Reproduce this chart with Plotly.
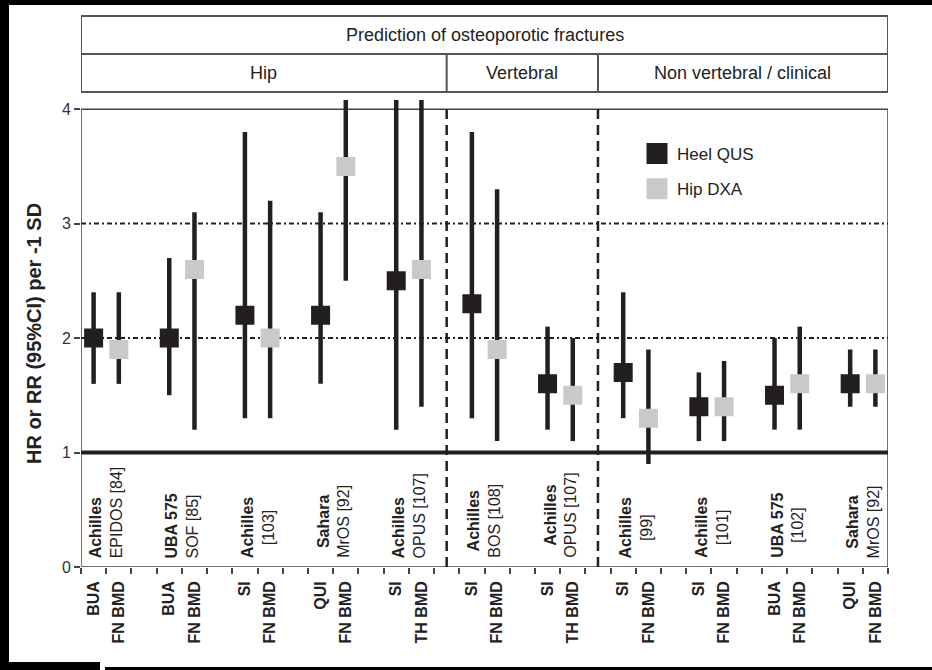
import plotly.graph_objects as go

# ---------------- data ----------------
group_names = ["Hip", "Vertebral", "Non vertebral / clinical"]
group_pairs = [5, 2, 4]
header_title = "Prediction of osteoporotic fractures"

devices = ["Achilles", "UBA 575", "Achilles", "Sahara", "Achilles",
           "Achilles", "Achilles",
           "Achilles", "Achilles", "UBA 575", "Sahara"]
studies = ["EPIDOS [84]", "SOF [85]", "[103]", "MrOS [92]", "OPUS [107]",
           "BOS [108]", "OPUS [107]",
           "[99]", "[101]", "[102]", "MrOS [92]"]
heel_params = ["BUA", "BUA", "SI", "QUI", "SI", "SI", "SI", "SI", "SI", "BUA", "QUI"]
hip_params = ["FN BMD", "FN BMD", "FN BMD", "FN BMD", "TH BMD",
              "FN BMD", "TH BMD", "FN BMD", "FN BMD", "FN BMD", "FN BMD"]

heel_hr = [2.0, 2.0, 2.2, 2.2, 2.5, 2.3, 1.6, 1.7, 1.4, 1.5, 1.6]
heel_lo = [1.6, 1.5, 1.3, 1.6, 1.2, 1.3, 1.2, 1.3, 1.1, 1.2, 1.4]
heel_hi = [2.4, 2.7, 3.8, 3.1, 4.1, 3.8, 2.1, 2.4, 1.7, 2.0, 1.9]

hip_hr = [1.9, 2.6, 2.0, 3.5, 2.6, 1.9, 1.5, 1.3, 1.4, 1.6, 1.6]
hip_lo = [1.6, 1.2, 1.3, 2.5, 1.4, 1.1, 1.1, 0.9, 1.1, 1.2, 1.4]
hip_hi = [2.4, 3.1, 3.2, 4.1, 4.1, 3.3, 2.0, 1.9, 1.8, 2.1, 1.9]

series_names = ["Heel QUS", "Hip DXA"]
y_ticks = [0, 1, 2, 3, 4]
ref_value = 1
grid_values = [2, 3]
y_title = "HR or RR (95%CI) per -1 SD"

# ---------------- styles ----------------
BLACK = "#231f20"
GRAY = "#c8c9cb"
FRAME = "#444444"
FONT = "Liberation Sans, Arial, sans-serif"
pair_align = ["left", "left", "center", "center", "left",
              "center", "center", "center", "center", "center", "center"]

W, H = 932, 670
ML, MR, MT, MB = 81, 44, 100, 103
PW, PH = W - ML - MR, H - MT - MB


def px_x(px):
    return (px - ML) / PW


def px_y(py):
    return (H - MB - py) / PH


n_pairs = len(devices)
heel_x = [3 * i for i in range(n_pairs)]
hip_x = [3 * i + 1 for i in range(n_pairs)]
n_slots = 3 * n_pairs - 1
x_lo, x_hi = -0.5, n_slots - 0.5
y_top_frame = y_ticks[-1]

fig = go.Figure()


def add_series(xs, hr, lo, hi, color, name):
    fig.add_trace(go.Scatter(
        x=xs, y=hr, mode="markers", name=name, showlegend=False,
        marker=dict(symbol="square", size=14, color=color,
                    line=dict(color=color, width=5)),
        error_y=dict(type="data", symmetric=False,
                     array=[h - m for h, m in zip(hi, hr)],
                     arrayminus=[m - l for m, l in zip(hr, lo)],
                     color=BLACK, thickness=4.5, width=0),
        cliponaxis=True,
    ))


add_series(heel_x, heel_hr, heel_lo, heel_hi, BLACK, series_names[0])
add_series(hip_x, hip_hr, hip_lo, hip_hi, GRAY, series_names[1])

# legend-only entries
for name, color in zip(series_names, [BLACK, GRAY]):
    fig.add_trace(go.Scatter(
        x=[None], y=[None], mode="markers", name=name, legendgroup=name,
        marker=dict(symbol="square", size=20, color=color,
                    line=dict(color=color, width=5)),
    ))

shapes = []
# frame
shapes.append(dict(type="rect", xref="x", yref="y", x0=x_lo, x1=x_hi,
                   y0=0, y1=y_top_frame, line=dict(color=FRAME, width=1.5),
                   layer="below"))
# dotted grid lines
for g in grid_values:
    shapes.append(dict(type="line", xref="x", yref="y", x0=x_lo, x1=x_hi,
                       y0=g, y1=g, line=dict(color=BLACK, width=2,
                                             dash="5px,3px,2px,3px"),
                       layer="below"))
# reference line
shapes.append(dict(type="line", xref="x", yref="y", x0=x_lo, x1=x_hi,
                   y0=ref_value, y1=ref_value,
                   line=dict(color=BLACK, width=4), layer="below"))
# group dividers
cum = 0
dividers = []
for c in group_pairs[:-1]:
    cum += c
    dividers.append(3 * cum - 1)
for d in dividers:
    shapes.append(dict(type="line", xref="x", yref="y", x0=d, x1=d,
                       y0=0, y1=y_top_frame,
                       line=dict(color=BLACK, width=2.5, dash="10px,6px"),
                       layer="below"))

# header table
hy0, hy1, hy2 = px_y(92), px_y(54), px_y(16)
HC = "#555555"
shapes.append(dict(type="rect", xref="x", yref="paper", x0=x_lo, x1=x_hi,
                   y0=hy0, y1=hy2, line=dict(color=HC, width=2)))
shapes.append(dict(type="line", xref="x", yref="paper", x0=x_lo, x1=x_hi,
                   y0=hy1, y1=hy1, line=dict(color=HC, width=2)))
for d in dividers:
    shapes.append(dict(type="line", xref="x", yref="paper", x0=d, x1=d,
                       y0=hy0, y1=hy1, line=dict(color=HC, width=2)))

# black scan borders
for (a, b, c, d) in [(0, 932, 0, 5), (0, 9, 0, 662), (0, 100, 662, 670),
                     (105, 932, 667, 670)]:
    shapes.append(dict(type="rect", xref="paper", yref="paper",
                       x0=px_x(a), x1=px_x(b), y0=px_y(d), y1=px_y(c),
                       fillcolor="black", line=dict(width=0)))

annotations = []
annotations.append(dict(x=(x_lo + x_hi) / 2, y=(hy1 + hy2) / 2, xref="x",
                        yref="paper", text=header_title, showarrow=False,
                        xanchor="center", yanchor="middle",
                        font=dict(family=FONT, size=18, color="#222")))
edges = [x_lo] + dividers + [x_hi]
for i, gname in enumerate(group_names):
    annotations.append(dict(x=(edges[i] + edges[i + 1]) / 2,
                            y=(hy0 + hy1) / 2, xref="x", yref="paper",
                            text=gname, showarrow=False,
                            xanchor="center", yanchor="middle",
                            font=dict(family=FONT, size=18, color="#222")))

for i in range(n_pairs):
    annotations.append(dict(
        x=heel_x[i] + 0.5, y=0.06, xref="x", yref="y",
        text=f"<b>{devices[i]}</b><br>{studies[i]}",
        textangle=-90, showarrow=False, xanchor="center", yanchor="bottom",
        align=pair_align[i], font=dict(family=FONT, size=16, color="#222")))

tickvals = []
ticktext = []
for i in range(n_pairs):
    tickvals += [heel_x[i], hip_x[i]]
    ticktext += [f"<b>{heel_params[i]}</b>", f"<b>{hip_params[i]}</b>"]

fig.update_layout(
    width=W, height=H,
    margin=dict(l=ML, r=MR, t=MT, b=MB, pad=0, autoexpand=False),
    paper_bgcolor="white", plot_bgcolor="white",
    font=dict(family=FONT, color="#222"),
    shapes=shapes, annotations=annotations,
    showlegend=True,
    legend=dict(x=px_x(637), y=px_y(136), xanchor="left", yanchor="top",
                bgcolor="rgba(0,0,0,0)", font=dict(family=FONT, size=17,
                                                  color="#222"),
                tracegroupgap=10),
    xaxis=dict(range=[x_lo, x_hi], tickmode="array", tickvals=tickvals,
               ticktext=ticktext, tickangle=-90, ticks="",
               ticklabelstandoff=10,
               tickfont=dict(family=FONT, size=16, color="#222"),
               showgrid=False, zeroline=False, showline=False,
               minor=dict(tickmode="array",
                          tickvals=[k - 0.5 for k in range(n_slots + 1)],
                          ticks="outside", ticklen=6, tickwidth=1.5,
                          tickcolor=FRAME, showgrid=False)),
    yaxis=dict(range=[0, 4.08], tickmode="array", tickvals=y_ticks,
               ticks="outside", ticklen=6, tickwidth=1.5, tickcolor=FRAME,
               tickfont=dict(family=FONT, size=16, color="#333"),
               showgrid=False, zeroline=False, showline=False,
               title=dict(text=f"<b>{y_title}</b>", standoff=14,
                          font=dict(family=FONT, size=20, color="#222"))),
)

fig.write_html("out.html",
               config={"displayModeBar": False},
               post_script="document.body.style.margin='0px';"
                           "document.body.style.overflow='hidden';")
